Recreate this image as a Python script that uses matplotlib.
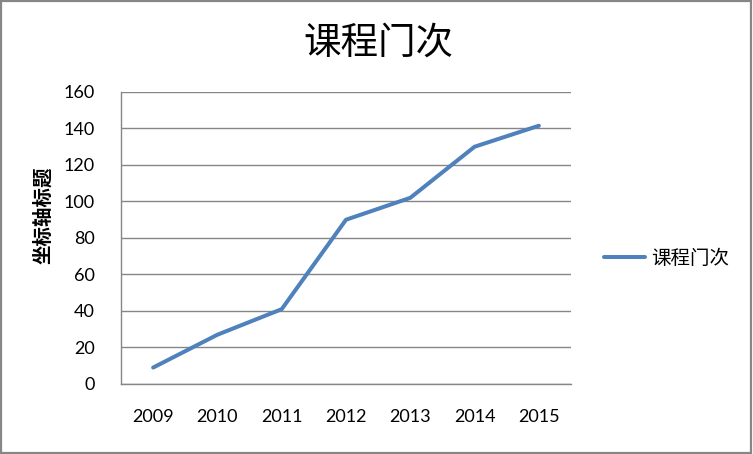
import matplotlib.pyplot as plt
from matplotlib.patches import Rectangle

plt.rcParams['font.family'] = ['Noto Sans CJK SC', 'DejaVu Sans']

years = ['2009', '2010', '2011', '2012', '2013', '2014', '2015']
courses = [9, 27, 41, 90, 102, 130, 141.5]
series_name = '课程门次'
yticks = [0, 20, 40, 60, 80, 100, 120, 140, 160]

fig = plt.figure(figsize=(7.53, 4.54), dpi=100)
ax = fig.add_axes([0.1607, 0.1542, 0.5976, 0.6432])

# 外框
fig.patches.append(Rectangle((0.001, 0.002), 0.996, 0.996, transform=fig.transFigure,
                             fill=False, edgecolor='#868686', linewidth=1.6))

x = range(len(years))
ax.plot(x, courses, color='#4F81BD', linewidth=2.9, solid_capstyle='round',
        label=series_name)

ax.set_xlim(-0.5, len(years) - 0.5)
ax.set_ylim(0, 160)
ax.set_xticks(list(x))
ax.set_xticklabels(years, family=['Lato', 'DejaVu Sans'], fontsize=13)
ax.set_yticks(yticks)
ax.set_yticklabels([str(v) for v in yticks], family=['Lato', 'DejaVu Sans'], fontsize=13)
ax.tick_params(axis='both', length=0, colors='black')
ax.tick_params(axis='x', pad=18)
ax.tick_params(axis='y', pad=19)

ax.grid(axis='y', color='#868686', linewidth=1.0)
ax.set_axisbelow(True)
for side in ['top', 'right']:
    ax.spines[side].set_visible(False)
for side in ['left', 'bottom']:
    ax.spines[side].set_color('#868686')
    ax.spines[side].set_linewidth(1.0)

fig.text(0.502, 0.905, '课程门次', ha='center', va='center', fontsize=27)
fig.text(0.057, 0.525, '坐标轴标题', ha='center', va='center', rotation=90,
         fontsize=14, fontweight='bold')

ax.legend(loc='center left', bbox_to_anchor=(1.035, 0.43), frameon=False,
          fontsize=14, handlelength=2.1, handletextpad=0.3)

fig.savefig('out.png', dpi=100)
